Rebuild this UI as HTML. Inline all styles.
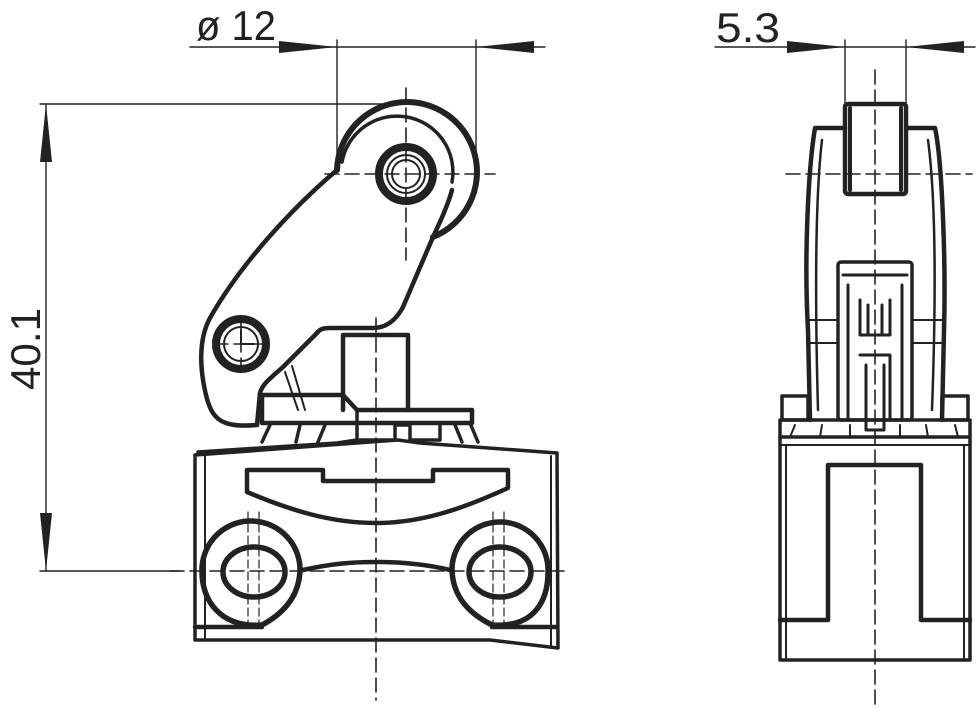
<!DOCTYPE html>
<html><head><meta charset="utf-8"><style>html,body{margin:0;padding:0;background:#fff}svg{display:block}</style></head><body>
<svg width="976" height="709" viewBox="0 0 976 709" xmlns="http://www.w3.org/2000/svg" fill="none" stroke="#222" stroke-linejoin="round" stroke-linecap="round">
<g stroke-width="1.4">
<line x1="190" y1="47" x2="545" y2="47"/>
<line x1="337" y1="40" x2="337" y2="168"/>
<line x1="476" y1="40" x2="476" y2="172"/>
<line x1="715" y1="47" x2="975" y2="47"/>
<line x1="845" y1="40" x2="845" y2="104"/>
<line x1="906" y1="40" x2="906" y2="104"/>
<line x1="46" y1="104" x2="46" y2="571"/>
<line x1="40" y1="104" x2="406" y2="104"/>
<line x1="40" y1="571" x2="180" y2="571"/>
</g>
<g fill="#222" stroke="none">
<polygon points="337,47 279,41 279,53"/>
<polygon points="476,47 534,41 534,53"/>
<polygon points="845,47 787,41 787,53"/>
<polygon points="906,47 964,41 964,53"/>
<polygon points="46,104 40,162 52,162"/>
<polygon points="46,571 40,513 52,513"/>
</g>
<g fill="#222" stroke="none" font-family="Liberation Sans, sans-serif" font-size="42" font-weight="300">
<text x="196" y="40" textLength="80" lengthAdjust="spacingAndGlyphs">ø 12</text>
<text x="716" y="42" textLength="64" lengthAdjust="spacingAndGlyphs">5.3</text>
<text transform="translate(40,390) rotate(-90)" textLength="82" lengthAdjust="spacingAndGlyphs">40.1</text>
</g>
<g stroke-width="1.6" stroke-dasharray="14,6">
<line x1="406" y1="88" x2="406" y2="260"/>
<line x1="325" y1="174" x2="495" y2="174"/>
<line x1="376" y1="318" x2="376" y2="700"/>
<line x1="170" y1="571" x2="570" y2="571"/>
<line x1="875" y1="70" x2="875" y2="705"/>
<line x1="786" y1="174" x2="972" y2="174"/>
<line x1="214" y1="344" x2="268" y2="344"/>
<line x1="241" y1="318" x2="241" y2="372"/>
</g>
<g stroke-width="1.2" stroke-dasharray="8,4">
<line x1="248" y1="512" x2="248" y2="630"/><line x1="259" y1="512" x2="259" y2="630"/>
<line x1="493" y1="512" x2="493" y2="630"/><line x1="504" y1="512" x2="504" y2="630"/>
</g>
<path d="M337,170 A70,70 0 1 1 433,237" stroke-width="6"/>
<path d="M342,162 A47,47 0 0 1 452,182" stroke-width="3.5"/>
<circle cx="406" cy="174" r="27" stroke-width="8"/>
<circle cx="406" cy="174" r="19" stroke-width="2"/>
<circle cx="406" cy="174" r="14" stroke-width="2"/>
<path d="M337,170 C290,210 240,265 210,318 C198,340 200,370 206,395 C212,420 222,428 257,425 L260,393 C262,385 268,380 283,367 L317,333 C320,329 323,328 330,328 L373,328 C385,328 395,322 403,307 L433,237 C440,222 448,205 452,190" stroke-width="4.5"/>
<circle cx="241" cy="344" r="25" stroke-width="8"/>
<circle cx="241" cy="344" r="17" stroke-width="2"/>
<path d="M241,330 V344 H254" stroke-width="2"/>
<line x1="285" y1="372" x2="298" y2="410" stroke-width="2"/>
<line x1="292" y1="366" x2="305" y2="410" stroke-width="2"/>
<path d="M343,410 V335 H408 V410" stroke-width="4.5"/>
<path d="M262,395 H343 L357,410 H472 V423 H262 Z" stroke-width="4.5"/>
<path d="M357,410 V440 H395 V425 L410,425 V440 H440 V425" stroke-width="3.5"/>
<path d="M270,425 L262,442 M300,425 L296,442 M325,425 L318,442 M455,425 L462,442 M470,423 L478,442" stroke-width="3.5"/>
<path d="M198,452 L337,443 L357,440 M398,440 L420,443 L557,453 L558,648 L490,640 L195,640 L195,455 Z" stroke-width="3.5"/>
<line x1="205" y1="455" x2="205" y2="640" stroke-width="2"/>
<line x1="551" y1="456" x2="551" y2="645" stroke-width="2"/>
<line x1="195" y1="627" x2="262" y2="627" stroke-width="4.5"/>
<line x1="492" y1="627" x2="557" y2="627" stroke-width="4.5"/>
<path d="M247,470 H323 V481 H433 V470 H508 V488 C460,510 420,523 376,523 C330,523 290,510 247,492 Z" stroke-width="4.5"/>
<path d="M262,625 C220,628 202,600 202,572 A48,48 0 0 1 300,568 C300,590 290,610 262,625" stroke-width="5.5"/>
<ellipse cx="254" cy="572" rx="31" ry="25" stroke-width="5.5"/>
<path d="M492,625 C535,628 548,600 548,572 A48,48 0 0 0 452,568 C452,590 462,610 492,625" stroke-width="5.5"/>
<ellipse cx="500" cy="572" rx="31" ry="25" stroke-width="5.5"/>
<path d="M303,570 C330,564 350,562 376,562 C402,562 425,564 450,570" stroke-width="4.5"/>
<path d="M815,128 H845 M906,128 H935 C942,160 946,260 944,330 L942,420 M815,128 C808,170 804,260 808,330 L810,420" stroke-width="4.5"/>
<path d="M822,140 C815,200 815,300 818,410 M928,140 C936,200 936,300 932,410" stroke-width="2.5"/>
<rect x="845" y="104" width="61" height="90" rx="3" stroke-width="4.5"/>
<line x1="850" y1="108" x2="850" y2="190" stroke-width="4"/>
<line x1="901" y1="108" x2="901" y2="190" stroke-width="4"/>
<rect x="838" y="262" width="74" height="158" rx="3" stroke-width="3.5"/>
<path d="M843,275 H907 M848,285 V420 M902,285 V420 M860,300 V335 H890 V300 M868,305 V335 H882 V305 M860,355 H890 V420 M866,365 V430 H884 V365" stroke-width="3"/>
<line x1="808" y1="320" x2="838" y2="320" stroke-width="2"/><line x1="912" y1="320" x2="944" y2="320" stroke-width="2"/>
<line x1="808" y1="343" x2="838" y2="343" stroke-width="2"/><line x1="912" y1="343" x2="944" y2="343" stroke-width="2"/>
<rect x="782" y="396" width="26" height="24" stroke-width="3.5"/>
<rect x="942" y="396" width="26" height="24" stroke-width="3.5"/>
<path d="M780,420 H970 V660 H780 Z" stroke-width="3.5"/>
<line x1="780" y1="437" x2="970" y2="437" stroke-width="3.5"/>
<line x1="780" y1="445" x2="970" y2="445" stroke-width="2"/>
<line x1="786" y1="445" x2="786" y2="660" stroke-width="2"/>
<line x1="964" y1="445" x2="964" y2="660" stroke-width="2"/>
<path d="M780,620 H828 V465 H921 V620 H970" stroke-width="4.5"/>
<path d="M790,437 L795,425 M820,437 L822,425 M850,437 L850,425 M900,437 L900,425 M928,437 L926,425 M958,437 L955,425" stroke-width="2"/>
</svg>
</body></html>
